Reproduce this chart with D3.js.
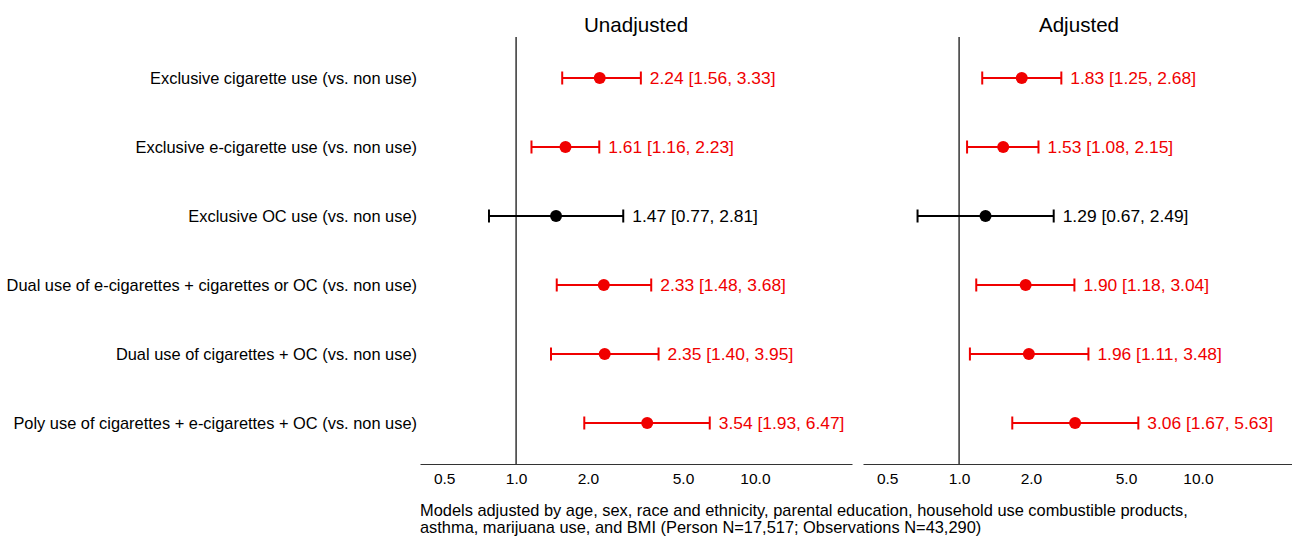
<!DOCTYPE html>
<html>
<head>
<meta charset="utf-8">
<script src="https://cdn.jsdelivr.net/npm/d3@7"></script>
<style>
  body { margin: 0; background: #fff; }
  svg { display: block; font-family: Arial, "Liberation Sans", sans-serif; }
</style>
</head>
<body>
<script>
// rows, top to bottom
const labels = [
  "Exclusive cigarette use (vs. non use)",
  "Exclusive e-cigarette use (vs. non use)",
  "Exclusive OC use (vs. non use)",
  "Dual use of e-cigarettes + cigarettes or OC (vs. non use)",
  "Dual use of cigarettes + OC (vs. non use)",
  "Poly use of cigarettes + e-cigarettes + OC (vs. non use)"
];

const panelTitles = ["Unadjusted", "Adjusted"];

const unadjEst = [2.24, 1.61, 1.47, 2.33, 2.35, 3.54];
const unadjLo  = [1.56, 1.16, 0.77, 1.48, 1.40, 1.93];
const unadjHi  = [3.33, 2.23, 2.81, 3.68, 3.95, 6.47];

const adjEst = [1.83, 1.53, 1.29, 1.90, 1.96, 3.06];
const adjLo  = [1.25, 1.08, 0.67, 1.18, 1.11, 1.67];
const adjHi  = [2.68, 2.15, 2.49, 3.04, 3.48, 5.63];

const tickValues = [0.5, 1, 2, 5, 10];

const note = [
  "Models adjusted by age, sex, race and ethnicity, parental education, household use combustible products,",
  "asthma, marijuana use, and BMI (Person N=17,517; Observations N=43,290)"
];

const width = 1292, height = 538;
const panelW = 432, panelGap = 11;
const panelX = [420, 420 + panelW + panelGap];
const axisY = 464, refTop = 37;

const svg = d3.select("body").append("svg")
    .attr("width", width)
    .attr("height", height);

const y = d3.scalePoint()
    .domain(labels)
    .range([78, 423]);

// row labels
svg.append("g")
  .selectAll("text")
  .data(labels)
  .join("text")
    .attr("x", 417)
    .attr("y", d => y(d))
    .attr("dy", "0.35em")
    .attr("text-anchor", "end")
    .attr("font-size", 16.4)
    .attr("fill", "#000")
    .text(d => d);

const fmt = d3.format(".2f");

const panels = [
  {est: unadjEst, lo: unadjLo, hi: unadjHi},
  {est: adjEst, lo: adjLo, hi: adjHi}
];

panels.forEach((p, k) => {
  const x0 = panelX[k];
  const x = d3.scaleLog()
      .domain([0.396, 25.5])
      .range([x0, x0 + panelW]);

  const g = svg.append("g");

  g.append("text")
      .attr("x", x0 + panelW / 2)
      .attr("y", 32)
      .attr("text-anchor", "middle")
      .attr("font-size", 20.6)
      .text(panelTitles[k]);

  // reference line at 1
  g.append("line")
      .attr("x1", x(1)).attr("x2", x(1))
      .attr("y1", refTop).attr("y2", axisY)
      .attr("stroke", "#000")
      .attr("stroke-width", 1.2);

  // x axis
  const ax = g.append("g")
      .attr("transform", `translate(0,${axisY})`)
      .call(d3.axisBottom(x)
          .tickValues(tickValues)
          .tickFormat(d3.format(".1f"))
          .tickSize(0)
          .tickPadding(9));
  ax.select(".domain")
      .attr("stroke", "#333")
      .attr("stroke-width", 1.2);
  ax.selectAll("text")
      .attr("font-size", 15.5)
      .attr("font-family", null)
      .attr("fill", "#000");

  const rows = labels.map((name, i) => ({
    name, est: p.est[i], lo: p.lo[i], hi: p.hi[i],
    sig: p.lo[i] > 1 || p.hi[i] < 1
  }));
  const col = d => d.sig ? "#f00000" : "#000";

  const r = g.selectAll(".row")
    .data(rows)
    .join("g")
      .attr("class", "row")
      .attr("transform", d => `translate(0,${y(d.name)})`);

  r.append("line")
      .attr("x1", d => x(d.lo)).attr("x2", d => x(d.hi))
      .attr("stroke", col).attr("stroke-width", 2);
  r.append("line")
      .attr("x1", d => x(d.lo)).attr("x2", d => x(d.lo))
      .attr("y1", -6.5).attr("y2", 6.5)
      .attr("stroke", col).attr("stroke-width", 2);
  r.append("line")
      .attr("x1", d => x(d.hi)).attr("x2", d => x(d.hi))
      .attr("y1", -6.5).attr("y2", 6.5)
      .attr("stroke", col).attr("stroke-width", 2);
  r.append("circle")
      .attr("cx", d => x(d.est))
      .attr("r", 6)
      .attr("fill", col);
  r.append("text")
      .attr("x", d => x(d.hi) + 9)
      .attr("dy", "0.35em")
      .attr("font-size", 17.4)
      .attr("fill", col)
      .text(d => `${fmt(d.est)} [${fmt(d.lo)}, ${fmt(d.hi)}]`);
});

svg.append("g")
  .selectAll("text")
  .data(note)
  .join("text")
    .attr("x", 420)
    .attr("y", (d, i) => 516 + i * 17)
    .attr("font-size", 16.4)
    .text(d => d);
</script>
</body>
</html>
